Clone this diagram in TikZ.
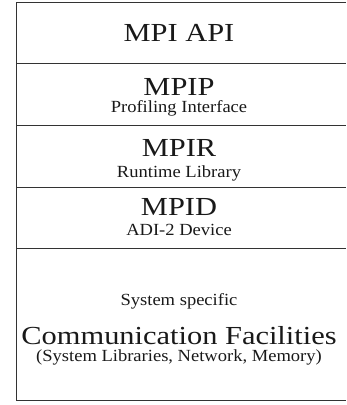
\documentclass[tikz,border=0pt]{standalone}
\usepackage{fontspec}
\setmainfont{Liberation Serif}
\newfontfamily\layerfont{Liberation Serif}[FakeStretch=1.17]
\newfontfamily\notefont{Liberation Serif}[FakeStretch=1.09]
\begin{document}
\begin{tikzpicture}[x=1pt,y=-1pt,
  rule/.style={line width=1pt,draw=black!80},
  title/.style={anchor=base,inner sep=0pt,text depth=0pt,font=\layerfont\fontsize{26}{28}\selectfont,text=black!90},
  note/.style={anchor=base,inner sep=0pt,font=\notefont\fontsize{17}{19}\selectfont,text=black!90}]
\useasboundingbox (0,0) rectangle (346,405);

% layer boundaries (the stack runs past the right margin)
\coordinate (tl) at (16.5,2.5);
\coordinate (bl) at (16.5,400.5);
\coordinate (tr) at (346,2.5);
\coordinate (br) at (346,400.5);
\draw[rule] (tr) -- (tl) -- (bl) -- (br);
\foreach \y in {63.5,125.5,187.5,248.5}
  \draw[rule] (16.5,\y) -- (346,\y);

% layer labels
\node[title] (api) at (179,41.7) {MPI API};
\node[title] (mpip) at (179,95) {MPIP};
\node[note] (prof) at (179,112.3) {Profiling Interface};
\node[title] (mpir) at (179,156.7) {MPIR};
\node[note] (rt) at (179,177.7) {Runtime Library};
\node[title] (mpid) at (179,215) {MPID};
\node[note] (adi) at (179,235) {ADI-2 Device};
\node[note] (sys) at (179,305) {System specific};
\node[title] (comm) at (179,344) {Communication Facilities};
\node[note,text height=10pt] (libs) at (179,361) {(System Libraries, Network, Memory)};
\end{tikzpicture}
\end{document}
